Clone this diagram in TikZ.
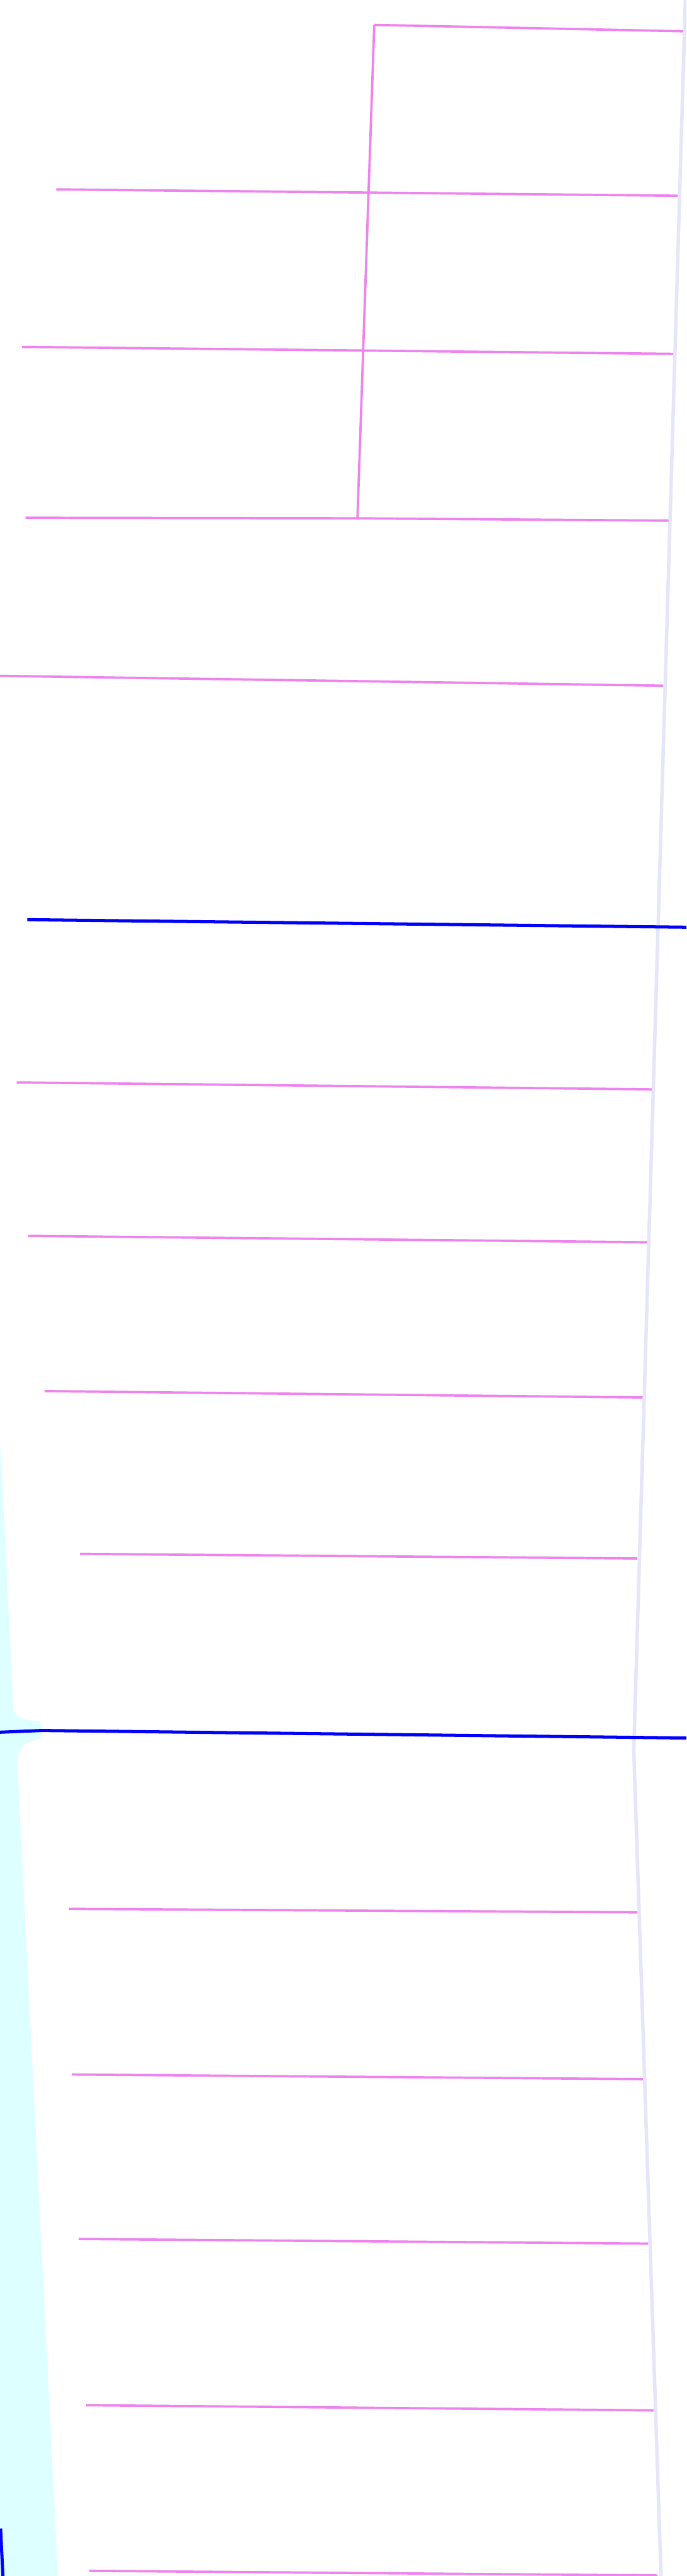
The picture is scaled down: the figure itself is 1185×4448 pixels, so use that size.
\documentclass[tikz,border=0pt]{standalone}
\usepackage{tikz}
\usetikzlibrary{positioning}
\definecolor{myviolet}{RGB}{238,130,238}
\definecolor{myblue}{RGB}{0,0,255}
\definecolor{mylavender}{RGB}{230,230,250}
\definecolor{mycyan}{RGB}{222,255,255}
\tikzset{
  street/.style={draw=myviolet, line width=1.15pt},
  avenue/.style={draw=myblue, line width=1.55pt},
  edgeline/.style={draw=mylavender, line width=1.7pt},
  water/.style={fill=mycyan, draw=none}
}

\begin{document}
\begin{tikzpicture}[x=0.01cm, y=-0.01cm]
  \clip (0,0) rectangle (1185,4448);
  \fill[white] (0,0) rectangle (1185,4448);

  % Water strip
  \fill[water] (0,2490) -- (6,2600) -- (23,2950)
    .. controls (25,2966) and (40,2970) .. (68,2972) -- (72,2978) -- (72,2998) -- (68,3004)
    .. controls (40,3006) and (31,3020) .. (30,3045) -- (100,4448) -- (0,4448) -- cycle;

  % Edge line
  \draw[edgeline] (1183,0) -- (1094,3023) coordinate (kink) -- (1141,4448);

  % Streets
  \draw[street] (646,43) coordinate (corner) -- (1179,54);
  \draw[street] (corner) -- (617,895) coordinate (tee);
  \draw[street] (97,327) -- (1170,338);
  \draw[street] (38,599) -- (1162,611);
  \draw[street] (44,894) -- (tee) -- (1154,899);
  \draw[street] (0,1167) -- (1145,1184);
  \draw[street] (29,1869) -- (1125,1881);
  \draw[street] (49,2134) -- (1117,2145);
  \draw[street] (77,2402) -- (1109,2413);
  \draw[street] (138,2683) -- (1100,2691);
  \draw[street] (119,3296) -- (1100,3302);
  \draw[street] (124,3582) -- (1110,3590);
  \draw[street] (136,3866) -- (1119,3874);
  \draw[street] (149,4153) -- (1128,4162);
  \draw[street] (154,4439) -- (1135,4447);

  % Avenues
  \draw[avenue] (47,1588) -- (1185,1601);
  \draw[avenue] (0,2991) -- (72,2988) -- (1185,3001);
  \draw[avenue] (1,4366) -- (5,4448);
\end{tikzpicture}
\end{document}
